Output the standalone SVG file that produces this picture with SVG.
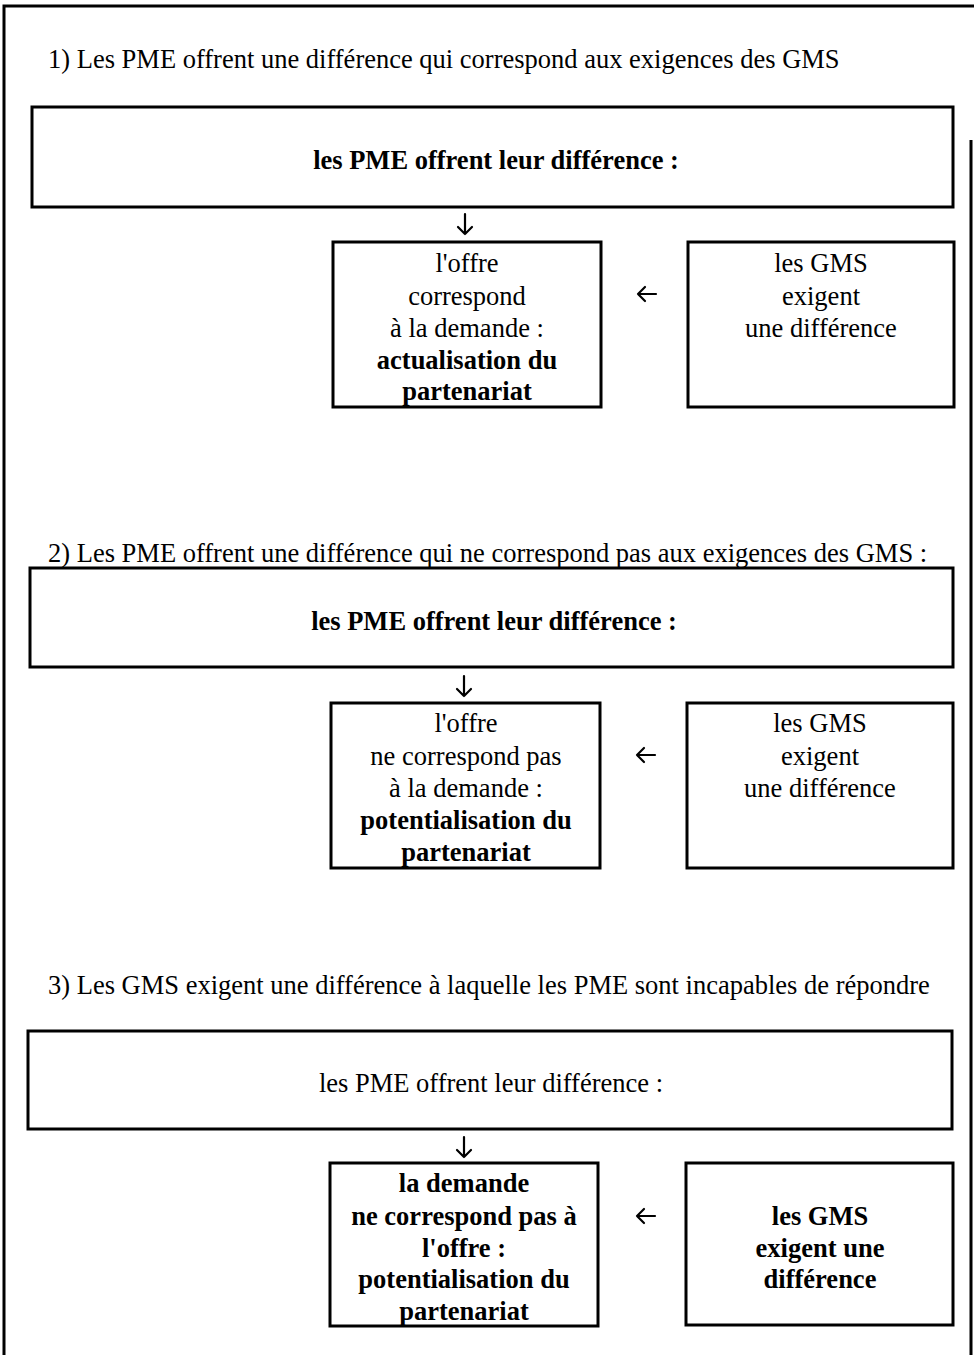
<svg xmlns="http://www.w3.org/2000/svg" width="974" height="1355" viewBox="0 0 974 1355">
  <style>
    text { font-family: "Liberation Serif", "Times New Roman", serif; font-size: 26.5px; fill: #000; }
    .c { text-anchor: middle; }
    .b { font-weight: bold; }
    .box { fill: #fff; stroke: #000; stroke-width: 3; }
    .frame { fill: none; stroke: #000; stroke-width: 3; }
    .arrow { fill: none; stroke: #000; stroke-width: 2.2; stroke-linecap: round; stroke-linejoin: round; }
  </style>
  <rect width="974" height="1355" fill="#fff"/>
  <!-- outer frame, open at the bottom -->
  <path class="frame" d="M4 1355 V6 H974 M971 140 V1355"/>

  <!-- section 1 -->
  <text x="48" y="68">1) Les PME offrent une différence qui correspond aux exigences des GMS</text>
  <g id="s1-pme">
    <rect class="box" x="32" y="107" width="921" height="100"/>
    <text class="c b" x="496" y="169">les PME offrent leur différence :</text>
  </g>
  <g id="s1-offre">
    <rect class="box" x="333" y="242" width="268" height="165"/>
    <text class="c" x="467" y="272">l'offre</text>
    <text class="c" x="467" y="305">correspond</text>
    <text class="c" x="467" y="337">à la demande :</text>
    <text class="c b" x="467" y="369">actualisation du</text>
    <text class="c b" x="467" y="400">partenariat</text>
  </g>
  <g id="s1-gms">
    <rect class="box" x="688" y="242" width="266" height="165"/>
    <text class="c" x="821" y="272">les GMS</text>
    <text class="c" x="821" y="305">exigent</text>
    <text class="c" x="821" y="337">une différence</text>
  </g>

  <!-- section 2 -->
  <text x="48" y="562">2) Les PME offrent une différence qui ne correspond pas aux exigences des GMS :</text>
  <g id="s2-pme">
    <rect class="box" x="30" y="568" width="923" height="99"/>
    <text class="c b" x="494" y="630">les PME offrent leur différence :</text>
  </g>
  <g id="s2-offre">
    <rect class="box" x="331" y="703" width="269" height="165"/>
    <text class="c" x="466" y="732">l'offre</text>
    <text class="c" x="466" y="765">ne correspond pas</text>
    <text class="c" x="466" y="797">à la demande :</text>
    <text class="c b" x="466" y="829">potentialisation du</text>
    <text class="c b" x="466" y="861">partenariat</text>
  </g>
  <g id="s2-gms">
    <rect class="box" x="687" y="703" width="266" height="165"/>
    <text class="c" x="820" y="732">les GMS</text>
    <text class="c" x="820" y="765">exigent</text>
    <text class="c" x="820" y="797">une différence</text>
  </g>

  <!-- section 3 -->
  <text x="48" y="994">3) Les GMS exigent une différence à laquelle les PME sont incapables de répondre</text>
  <g id="s3-pme">
    <rect class="box" x="28" y="1031" width="924" height="98"/>
    <text class="c" x="491" y="1092">les PME offrent leur différence :</text>
  </g>
  <g id="s3-demande">
    <rect class="box" x="330" y="1163" width="268" height="163"/>
    <text class="c b" x="464" y="1192">la demande</text>
    <text class="c b" x="464" y="1225">ne correspond pas à</text>
    <text class="c b" x="464" y="1257">l'offre :</text>
    <text class="c b" x="464" y="1288">potentialisation du</text>
    <text class="c b" x="464" y="1320">partenariat</text>
  </g>
  <g id="s3-gms">
    <rect class="box" x="686" y="1163" width="267" height="162"/>
    <text class="c b" x="820" y="1225">les GMS</text>
    <text class="c b" x="820" y="1257">exigent une</text>
    <text class="c b" x="820" y="1288">différence</text>
  </g>

  <!-- connectors -->
  <g id="connectors">
    <path class="arrow" d="M465 214 V234 M458 227 L465 234 L472 227"/>
    <path class="arrow" d="M656 294 H638 M645 287 L638 294 L645 301"/>
    <path class="arrow" d="M464 676 V696 M457 689 L464 696 L471 689"/>
    <path class="arrow" d="M655 755 H637 M644 748 L637 755 L644 762"/>
    <path class="arrow" d="M464 1137 V1157 M457 1150 L464 1157 L471 1150"/>
    <path class="arrow" d="M655 1216 H637 M644 1209 L637 1216 L644 1223"/>
  </g>
</svg>
